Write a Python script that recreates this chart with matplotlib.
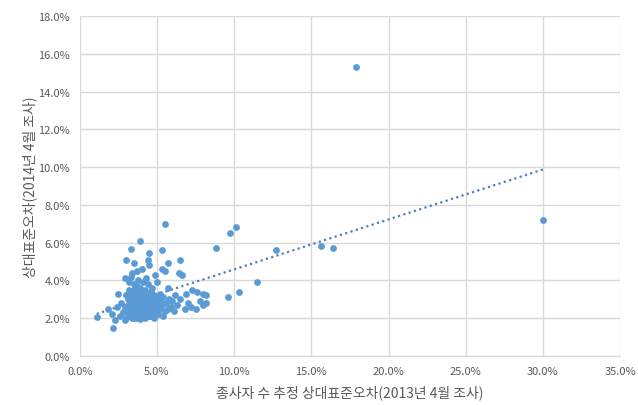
import matplotlib
matplotlib.use("Agg")
import matplotlib.pyplot as plt
from matplotlib.ticker import FuncFormatter
import numpy as np

plt.rcParams["font.family"] = ["Noto Sans CJK KR", "DejaVu Sans"]

# 2013년 4월 조사 상대표준오차 (%)
x_2013 = [
    1.1, 1.8, 2.1, 2.15, 2.3, 2.4, 2.5, 2.6, 2.7, 2.8, 2.9, 2.9,
    3.0, 3.0, 3.1, 3.1, 3.2, 3.2, 3.3, 3.3, 3.3, 3.4, 3.4, 3.5, 3.5, 3.5, 3.5,
    3.6, 3.6, 3.6, 3.7, 3.7, 3.7, 3.8, 3.8, 3.8, 3.8, 3.9, 3.9, 3.9, 3.9, 4.0, 4.0, 4.0, 4.0,
    4.1, 4.1, 4.1, 4.2, 4.2, 4.2, 4.3, 4.3, 4.3, 4.3, 4.4, 4.4, 4.4, 4.5, 4.5, 4.5, 4.5,
    4.6, 4.6, 4.7, 4.7, 4.8, 4.8, 4.8, 4.9, 4.9, 5.0, 5.0, 5.0,
    5.1, 5.1, 5.2, 5.2, 5.3, 5.3, 5.4, 5.4, 5.5, 5.5,
    5.6, 5.7, 5.7, 5.8, 5.9, 6.0, 6.1, 6.2, 6.3, 6.4, 6.5, 6.6,
    6.8, 6.9, 7.0, 7.2, 7.3, 7.5, 7.6, 7.8, 8.0, 8.0, 8.2, 8.2,
    2.9, 3.0, 3.1, 3.2, 3.2, 3.3, 3.4, 3.4, 3.5, 3.6, 3.6, 3.7, 3.7, 3.8, 3.8,
    3.9, 3.9, 4.0, 4.0, 4.1, 4.1, 4.2, 4.2, 4.3, 4.4, 4.4, 4.5, 4.6, 4.6, 4.7,
    4.8, 4.9, 5.0, 5.1, 5.2, 3.3, 3.5, 3.7, 4.1, 4.2, 3.6, 4.6, 3.2, 3.4, 3.1,
    3.3, 3.0, 3.9, 4.4, 4.5, 5.3, 5.7, 6.5, 5.5,
    8.8, 9.7, 10.1, 9.6, 10.3, 11.5, 12.7, 15.6, 16.4, 17.9, 30.0,
]

# 2014년 4월 조사 상대표준오차 (%)
y_2014 = [
    2.05, 2.5, 2.2, 1.5, 1.9, 2.6, 3.3, 2.1, 2.8, 2.3, 4.1, 1.9,
    2.0, 2.4, 2.7, 3.0, 2.2, 3.5, 2.5, 2.9, 4.2, 2.0, 3.2, 2.3, 2.7, 3.8, 4.9,
    2.1, 2.5, 3.0, 2.8, 3.4, 4.5, 2.2, 2.6, 3.1, 4.0, 1.95, 2.4, 2.9, 3.6, 2.1, 2.7, 3.3, 4.6,
    2.3, 2.5, 3.0, 2.0, 2.8, 3.5, 2.2, 2.6, 3.2, 4.1, 2.4, 2.9, 3.8, 2.1, 2.7, 3.3, 4.8,
    2.3, 3.0, 2.5, 3.6, 2.0, 2.8, 3.2, 2.4, 4.3, 2.6, 3.0, 3.9,
    2.2, 2.9, 2.5, 3.3, 2.7, 4.6, 2.1, 3.1, 2.4, 4.5,
    2.8, 2.5, 3.6, 3.0, 2.6, 2.9, 2.4, 3.2, 2.7, 4.4, 3.0, 4.3,
    2.5, 3.3, 2.8, 2.6, 3.5, 2.5, 3.4, 2.9, 2.7, 3.3, 3.2, 2.8,
    2.6, 3.2, 2.3, 2.6, 3.1, 2.1, 2.7, 2.4, 2.0, 2.8, 3.3, 2.3, 2.0, 2.9, 3.4,
    2.6, 3.1, 2.4, 2.9, 2.7, 3.3, 2.2, 2.5, 2.9, 2.1, 2.6, 3.0, 2.6, 2.1, 2.9,
    2.4, 2.7, 2.2, 2.6, 2.9, 3.4, 3.1, 3.7, 3.9, 3.1, 3.6, 3.4, 3.9, 4.4, 3.3,
    5.66, 5.1, 6.1, 5.1, 5.45, 5.6, 4.9, 5.1, 7.0,
    5.7, 6.5, 6.8, 3.1, 3.4, 3.9, 5.6, 5.8, 5.7, 15.3, 7.2,
]

x_ticks = [0, 5, 10, 15, 20, 25, 30, 35]
y_ticks = [0, 2, 4, 6, 8, 10, 12, 14, 16, 18]

dot_color = "#5B9BD5"
line_color = "#4F81BD"
text_color = "#595959"
grid_color = "#D9D9D9"

fig = plt.figure(figsize=(6.38, 4.06), dpi=100)
ax = fig.add_axes([0.125, 0.121, 0.847, 0.837])

ax.scatter(x_2013, y_2014, s=24, color=dot_color, zorder=3, linewidths=0)

# 선형 추세선
slope, intercept = np.polyfit(x_2013, y_2014, 1)
xs = np.array([min(x_2013), max(x_2013)])
ax.plot(xs, slope * xs + intercept, linestyle=(0, (1, 1.5)), color=line_color,
        linewidth=1.6, zorder=2)

ax.set_xlim(0, 35)
ax.set_ylim(0, 18)
ax.set_xticks(x_ticks)
ax.set_yticks(y_ticks)
pct = FuncFormatter(lambda v, p: f"{v:.1f}%")
ax.xaxis.set_major_formatter(pct)
ax.yaxis.set_major_formatter(pct)

ax.grid(True, color=grid_color, linewidth=1, zorder=0)
ax.set_axisbelow(True)
for s in ["top", "right", "left"]:
    ax.spines[s].set_visible(False)
ax.spines["bottom"].set_color(grid_color)
ax.tick_params(length=0, labelsize=8, colors=text_color, pad=7)

ax.set_xlabel("종사자 수 추정 상대표준오차(2013년 4월 조사)", fontsize=10,
              color=text_color, labelpad=6)
ax.set_ylabel("상대표준오차(2014년 4월 조사)", fontsize=10, color=text_color,
              labelpad=1)

fig.savefig("out.png", dpi=100)
